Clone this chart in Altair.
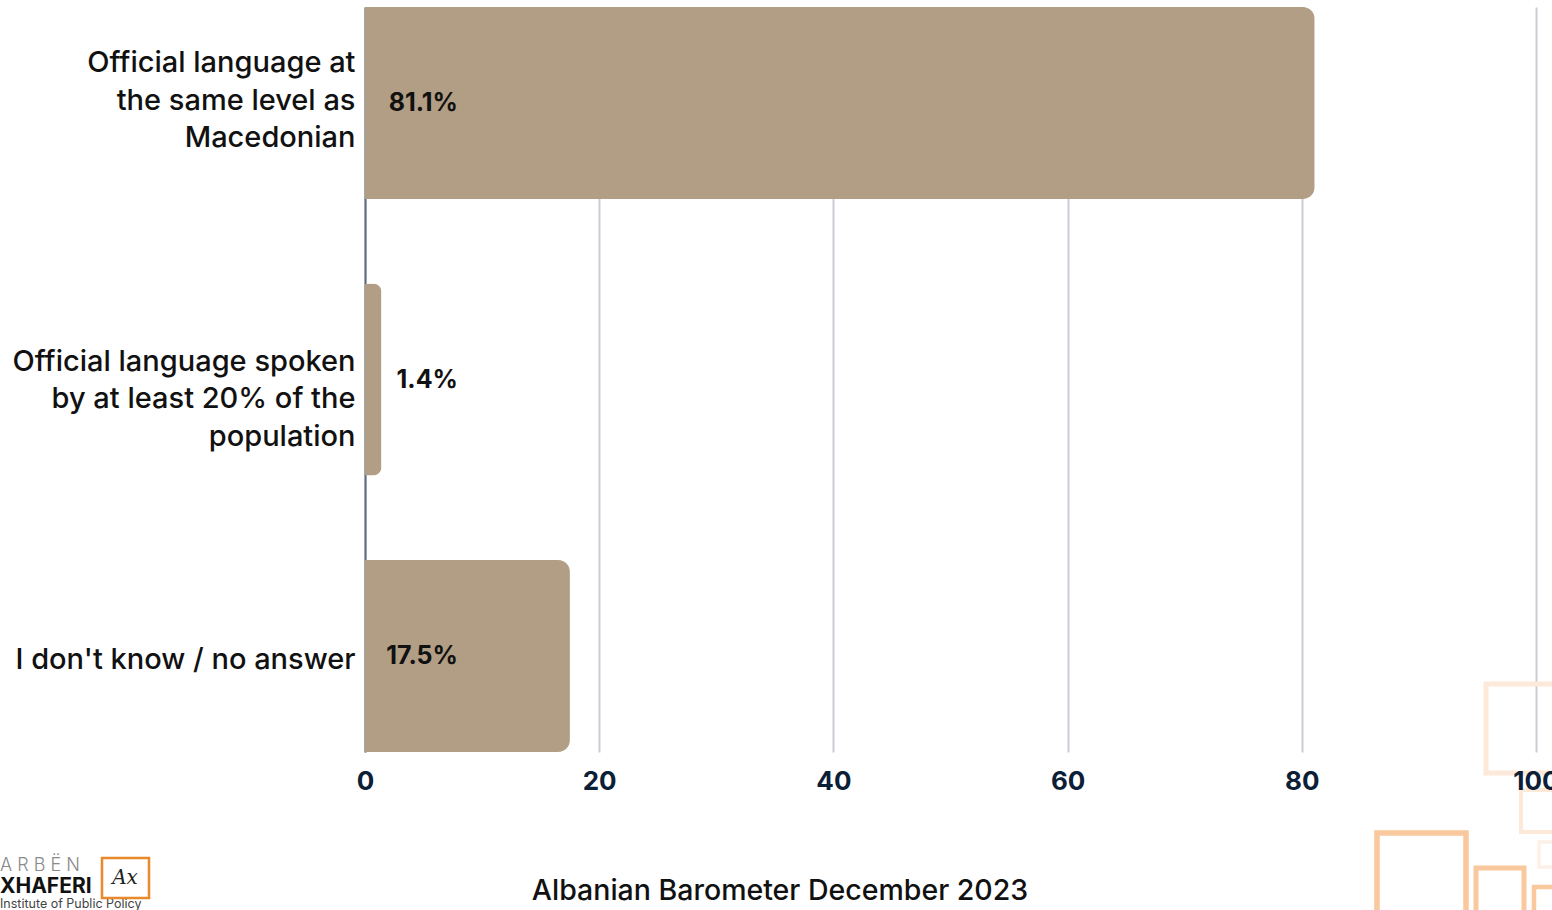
import altair as alt
import pandas as pd

# ---- data ----
categories = [
    "Official language at|the same level as|Macedonian",
    "Official language spoken|by at least 20% of the|population",
    "I don't know / no answer",
]
values = [81.1, 1.4, 17.5]
value_labels = ["81.1%", "1.4%", "17.5%"]
x_ticks = [0, 20, 40, 60, 80, 100]
footer_title = "Albanian Barometer December 2023"

# decorative outlined squares (pixel positions relative to plot origin)
deco_x = [1121, 1156, 1174, 1012, 1111, 1169]
deco_y = [677, 783, 835, 826, 861, 880]
deco_x2 = [1212, 1205, 1205, 1101, 1159, 1205]
deco_y2 = [766, 825, 860, 915, 915, 915]
deco_color = ["#fde9da", "#fde9da", "#fdf0e6", "#f9c89c", "#f9c89c", "#f9c89c"]
deco_width = [5, 4, 3.5, 5.5, 5, 4.5]

FONT = "Inter"

df = pd.DataFrame({"category": categories, "value": values, "label": value_labels})

ysc = alt.Y(
    "category:N",
    sort=None,
    title=None,
    scale=alt.Scale(paddingInner=0.3056, paddingOuter=0),
    axis=alt.Axis(
        labelExpr="split(datum.label, '|')",
        labelFontSize=29,
        labelFont=FONT,
        labelFontWeight=500,
        labelColor="#111111",
        labelLimit=450,
        labelPadding=10,
        labelLineHeight=37.5,
        labelOffset={
            "condition": [
                {"test": "indexof(datum.value, 'Macedonian') >= 0", "value": -40},
                {"test": "indexof(datum.value, 'population') >= 0", "value": -18},
            ],
            "value": 4,
        },
        ticks=False,
        domain=True,
        domainColor="#5b6b7c",
        domainWidth=2,
        grid=False,
    ),
)

xscale = alt.Scale(domain=[0, 100], nice=False)

bars = alt.Chart(df).mark_bar(color="#b29e84", cornerRadiusEnd=12).encode(
    x=alt.X(
        "value:Q",
        scale=xscale,
        title=None,
        axis=alt.Axis(
            orient="bottom",
            values=x_ticks,
            labels=False,
            ticks=False,
            domain=False,
            grid=True,
            gridColor="#c9cdd3",
            gridWidth=2,
        ),
    ),
    y=ysc,
)

texts = alt.Chart(df).mark_text(
    align="right", baseline="middle", fontSize=25, fontWeight="bold", font=FONT, color="#111111"
).encode(
    x=alt.value(93),
    y=alt.Y("category:N", sort=None),
    text="label:N",
)

# invisible layer carrying the x-axis labels, drawn above the decorations
label_axis = alt.Chart(df).mark_point(opacity=0).encode(
    x=alt.X(
        "value:Q",
        scale=xscale,
        title=None,
        axis=alt.Axis(
            orient="bottom",
            values=x_ticks,
            labelFontSize=26,
            labelFont=FONT,
            labelFontWeight="bold",
            labelColor="#0b2036",
            labelPadding=16,
            labelFlush=False,
            labelOverlap=False,
            labelBound=False,
            ticks=False,
            domain=False,
            grid=False,
            zindex=2,
        ),
    ),
    y=alt.Y("category:N", sort=None),
)

deco_df = pd.DataFrame(
    {"x": deco_x, "y": deco_y, "x2": deco_x2, "y2": deco_y2, "c": deco_color, "w": deco_width}
)
deco = alt.Chart(deco_df).mark_rect(fill=None, fillOpacity=0).encode(
    x=alt.X("x:Q", scale=None),
    x2="x2:Q",
    y=alt.Y("y:Q", scale=None),
    y2="y2:Q",
    stroke=alt.Stroke("c:N", scale=None),
    strokeWidth=alt.StrokeWidth("w:Q", scale=None),
)

footer = alt.Chart(pd.DataFrame({"t": [footer_title]})).mark_text(
    align="center", baseline="middle", fontSize=28.5, fontWeight=500, font=FONT, color="#111111"
).encode(x=alt.value(415), y=alt.value(884), text="t:N")

# logo
logo_text = ["A  R  B  Ë  N", "XHAFERI", "Institute of Public Policy"]
logo_df = pd.DataFrame({
    "t": logo_text,
    "x": [-365, -365, -365],
    "y": [859, 880, 897],
})
logo1 = alt.Chart(logo_df.iloc[[0]]).mark_text(align="left", baseline="middle", font=FONT, fontWeight=300, fontSize=18, color="#8a8a8a").encode(
    x=alt.X("x:Q", scale=None), y=alt.Y("y:Q", scale=None), text="t:N")
logo2 = alt.Chart(logo_df.iloc[[1]]).mark_text(align="left", baseline="middle", font=FONT, fontWeight="bold", fontSize=21, color="#111111").encode(
    x=alt.X("x:Q", scale=None), y=alt.Y("y:Q", scale=None), text="t:N")
logo3 = alt.Chart(logo_df.iloc[[2]]).mark_text(align="left", baseline="middle", font=FONT, fontSize=12.5, color="#444444").encode(
    x=alt.X("x:Q", scale=None), y=alt.Y("y:Q", scale=None), text="t:N")
box_df = pd.DataFrame({"x": [-263], "y": [851], "x2": [-216], "y2": [891]})
logo_box = alt.Chart(box_df).mark_rect(fill="white", stroke="#e8892b", strokeWidth=2.5).encode(
    x=alt.X("x:Q", scale=None), x2="x2:Q", y=alt.Y("y:Q", scale=None), y2="y2:Q")
sig = alt.Chart(pd.DataFrame({"t": ["Ax"], "x": [-240], "y": [871]})).mark_text(
    align="center", baseline="middle", fontSize=20, fontStyle="italic", font="DejaVu Serif", color="#222222"
).encode(x=alt.X("x:Q", scale=None), y=alt.Y("y:Q", scale=None), text="t:N")

chart = alt.layer(deco, bars, texts, label_axis, footer, logo1, logo2, logo3, logo_box, sig).resolve_axis(
    x="independent"
).properties(
    width=1171,
    height=745,
    autosize="none",
    padding={"left": 365, "top": 7, "right": 16, "bottom": 158},
).configure_view(stroke=None, clip=False)

chart.save("out.html", embed_options={"renderer": "svg", "actions": False})
